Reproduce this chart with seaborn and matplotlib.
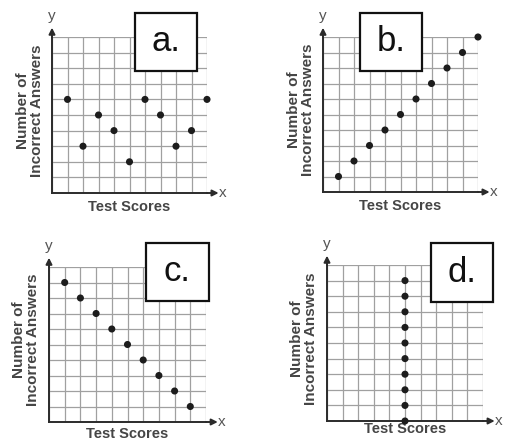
import seaborn as sns
from matplotlib import pyplot as plt
from matplotlib.patches import Rectangle

# scatter data (grid units)
a_x = [1, 2, 3, 4, 5, 6, 7, 8, 9, 10]
a_y = [6, 3, 5, 4, 2, 6, 5, 3, 4, 6]

b_x = [1, 2, 3, 4, 5, 6, 7, 8, 9, 10]
b_y = [1, 2, 3, 4, 5, 6, 7, 8, 9, 10]

c_x = [1, 2, 3, 4, 5, 6, 7, 8, 9]
c_y = [9, 8, 7, 6, 5, 4, 3, 2, 1]

d_x = [5, 5, 5, 5, 5, 5, 5, 5, 5, 5]
d_y = [0, 1, 2, 3, 4, 5, 6, 7, 8, 9]

panel_names = ["a.", "b.", "c.", "d."]
y_title = "Number of\nIncorrect Answers"
x_title = "Test Scores"
grid_ticks = [0, 1, 2, 3, 4, 5, 6, 7, 8, 9, 10]

sns.set_style("white")
plt.rcParams['font.family'] = ['Liberation Sans', 'DejaVu Sans']

fig = plt.figure(figsize=(5.05, 4.42), dpi=100)

W, H = 505, 442


def px_axes(x0, y0, x1, y1):
    # pixel box (top-down) -> figure fraction
    return fig.add_axes([x0 / W, 1 - y1 / H, (x1 - x0) / W, (y1 - y0) / H])


panels = [
    (px_axes(52, 37, 207, 193), a_x, a_y, (0.535, 0.782, 0.40, 0.372), -0.09),
    (px_axes(323, 37, 478, 192), b_x, b_y, (0.239, 0.782, 0.40, 0.373), -0.09),
    (px_axes(49, 267, 206, 422), c_x, c_y, (0.618, 0.781, 0.40, 0.374), -0.078),
    (px_axes(327, 265, 483, 421), d_x, d_y, (0.667, 0.763, 0.40, 0.378), -0.05),
]

dark = "#2b2b2b"
label_col = "#454545"

for (ax, xs, ys, box, xl_y), name in zip(panels, panel_names):
    ax.set_xlim(0, 10)
    ax.set_ylim(0, 10)
    ax.set_xticks(grid_ticks)
    ax.set_yticks(grid_ticks)
    ax.set_xticklabels([])
    ax.set_yticklabels([])
    ax.tick_params(length=0)
    ax.grid(True, color="#a0a0a0", lw=0.9)
    for s in ["top", "right"]:
        ax.spines[s].set_visible(False)
    for s in ["left", "bottom"]:
        ax.spines[s].set_color(dark)
        ax.spines[s].set_linewidth(1.4)

    sns.scatterplot(x=xs, y=ys, ax=ax, color="#1c1c1c", s=26,
                    edgecolor="none", zorder=4, clip_on=False)

    # axis arrows
    ax.annotate("", xy=(10.75, 0), xytext=(10, 0),
                arrowprops=dict(arrowstyle="-|>", color=dark, lw=1.4,
                                mutation_scale=9, shrinkA=0, shrinkB=0),
                annotation_clip=False)
    ax.annotate("", xy=(0, 10.6), xytext=(0, 10),
                arrowprops=dict(arrowstyle="-|>", color=dark, lw=1.4,
                                mutation_scale=9, shrinkA=0, shrinkB=0),
                annotation_clip=False)
    ax.text(11.0, 0, "x", ha="center", va="center", fontsize=11,
            color="#555555", clip_on=False)
    ax.text(0, 11.35, "y", ha="center", va="center", fontsize=11,
            color="#555555", clip_on=False)

    ax.text(-0.145, 0.53, y_title, transform=ax.transAxes, rotation=90,
            ha="center", va="center", fontsize=11, fontweight="bold",
            color=label_col, linespacing=1.0)
    ax.text(0.5, xl_y, x_title, transform=ax.transAxes, ha="center",
            va="center", fontsize=10.5, fontweight="bold", color=label_col)

    bx, by, bw, bh = box
    ax.add_patch(Rectangle((bx, by), bw, bh, transform=ax.transAxes,
                           facecolor="white", edgecolor="#111111", lw=1.6,
                           clip_on=False, zorder=6))
    ax.text(bx + bw / 2, by + bh / 2, name, transform=ax.transAxes,
            ha="center", va="center", fontsize=25, color="#111111", zorder=7)

fig.savefig("out.png", dpi=100)
